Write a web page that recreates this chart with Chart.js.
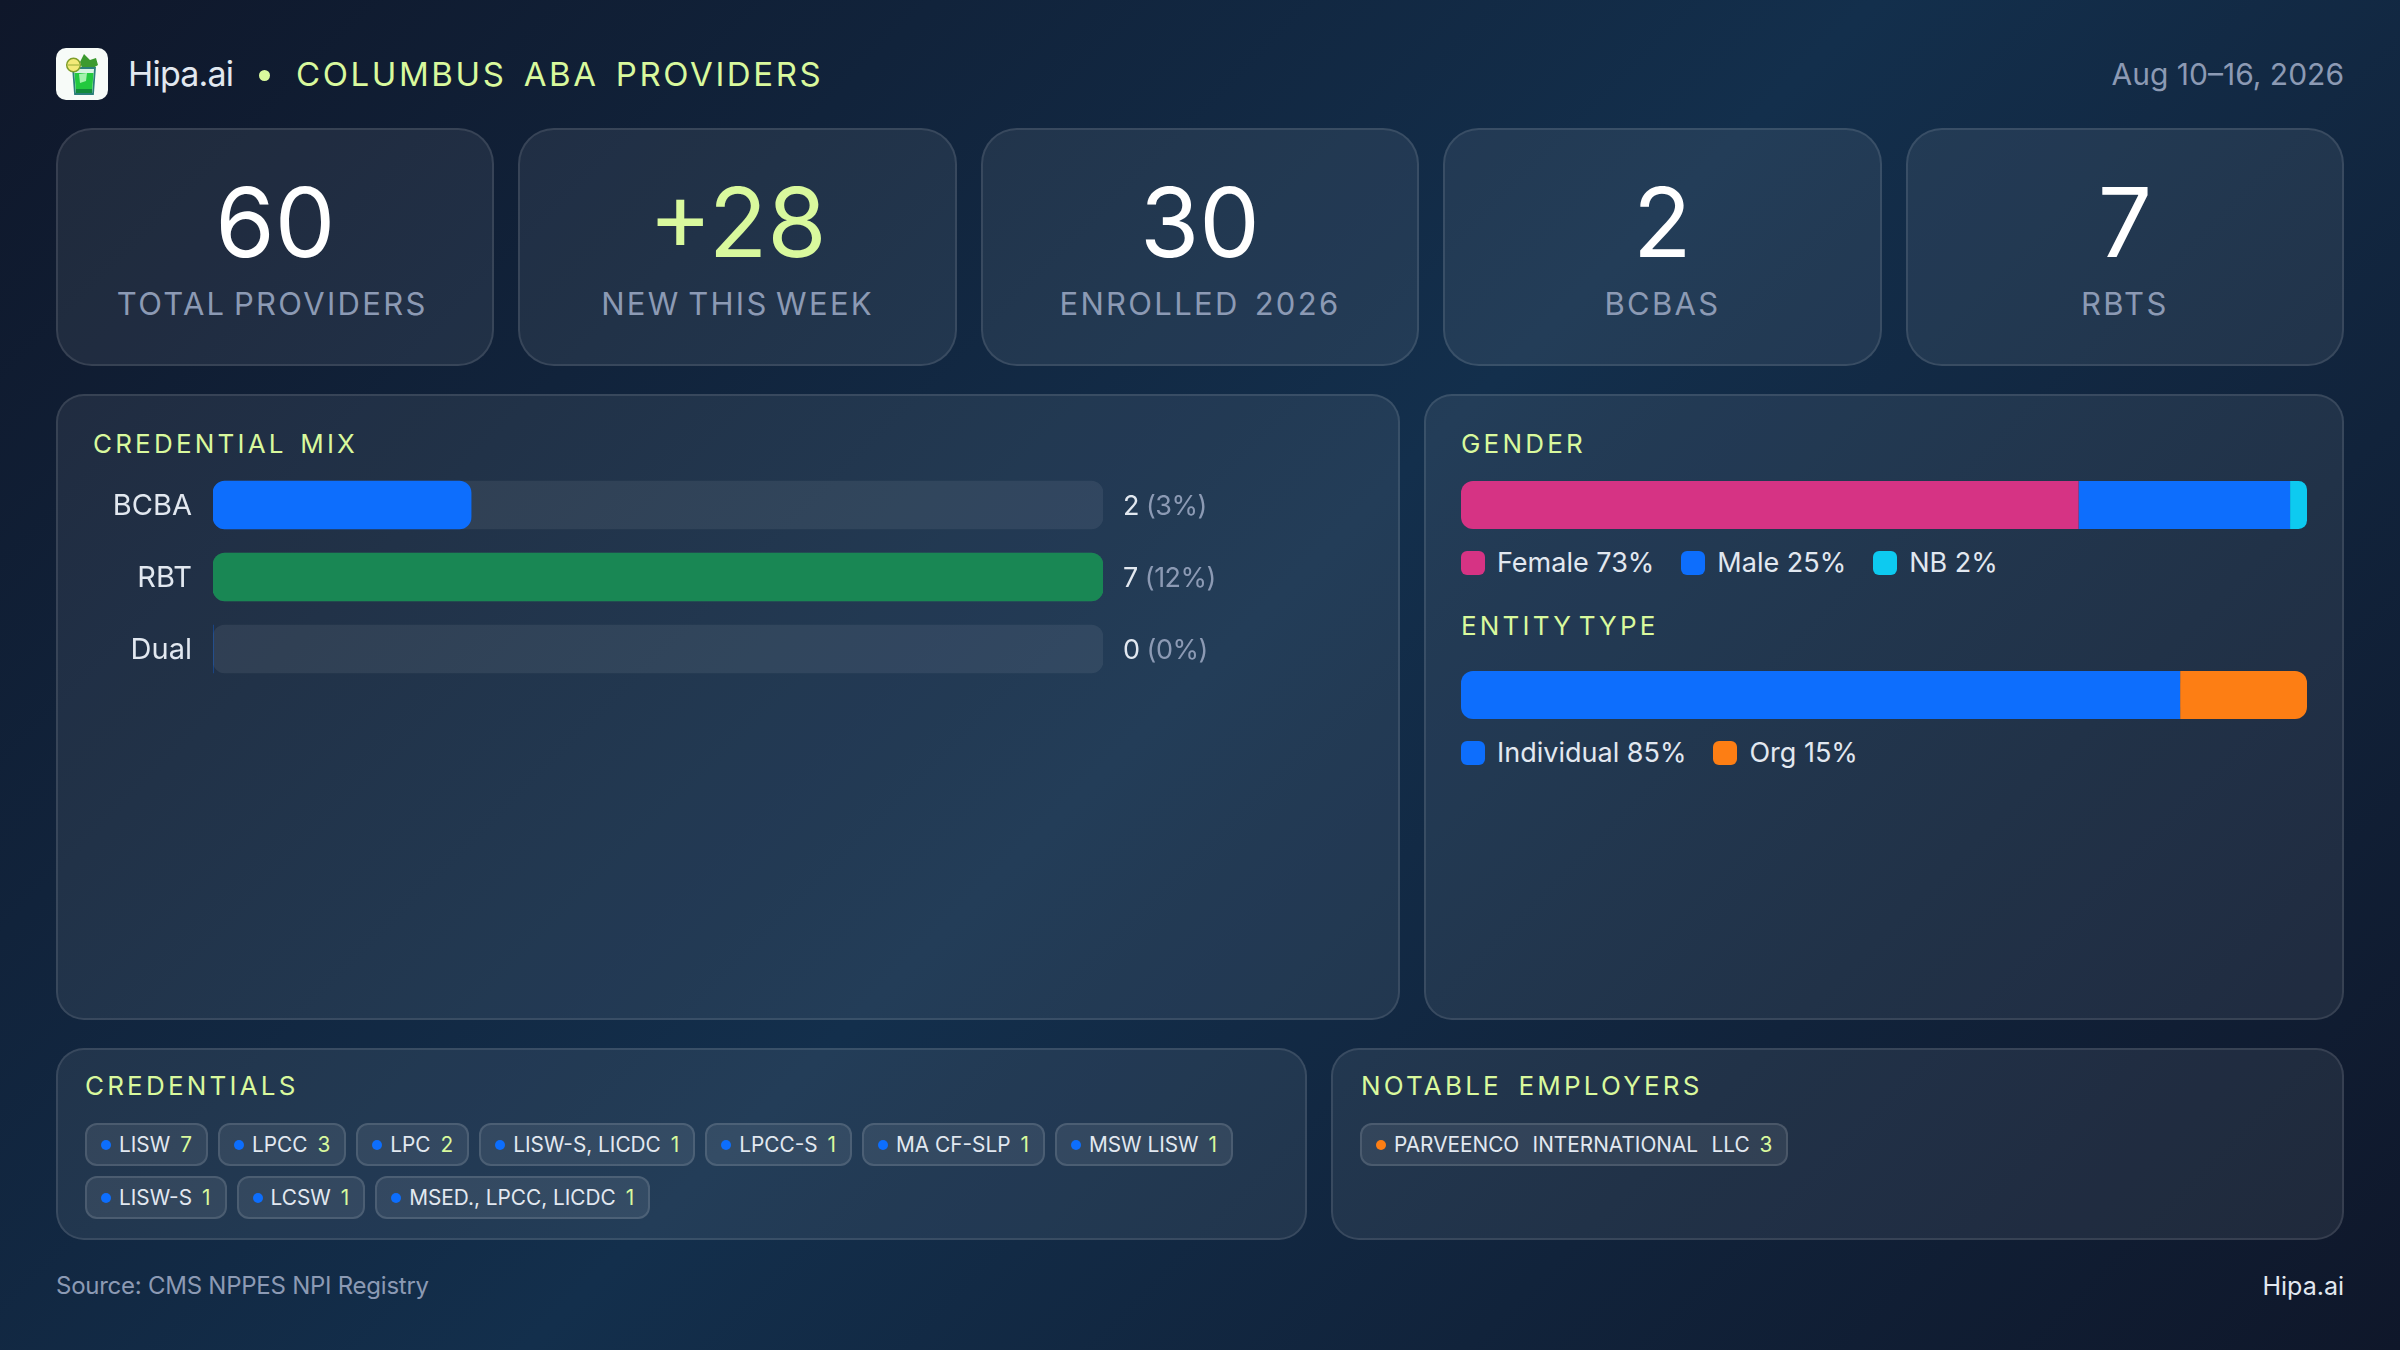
<!DOCTYPE html>
<html>
<head>
<meta charset="utf-8">
<script src="https://cdn.jsdelivr.net/npm/chart.js@4"></script>
<style>
html, body { margin: 0; padding: 0; }
body { width: 2400px; height: 1350px; overflow: hidden; position: relative; font-family: Inter, sans-serif;
  background: linear-gradient(135deg, #0f172a 0%, #132f4c 50%, #0f172a 100%); color: #e2e8f0; }
.abs { position: absolute; white-space: nowrap; }
.panel { position: absolute; box-sizing: border-box; background: rgba(255,255,255,.07); border: 2px solid rgba(255,255,255,.1); border-radius: 28px; }
.stat { top: 128px; height: 238px; width: 438.4px; border-radius: 36px; text-align: center; }
.stat .num { position: absolute; left: 0; right: 0; top: 34px; font-size: 96px; line-height: 116px; color: #fff; }
.stat .lab { position: absolute; left: 0; right: 0; top: 154px; font-size: 31px; line-height: 40px; letter-spacing: 2.3px; word-spacing: -3.5px; color: #8c9ab4; }
.stat:nth-child(1) .lab { left: -6px; }
.stat:nth-child(3) .lab { word-spacing: 4px; }
.sec { position: absolute; white-space: nowrap; font-size: 26px; line-height: 32px; letter-spacing: 3.2px; word-spacing: 3px; color: #d9f99d; }
canvas { position: absolute; display: block; }
.legend { position: absolute; left: 1461px; display: flex; gap: 27px; font-size: 27px; line-height: 26px; height: 24px; }
.legend div { display: flex; align-items: center; white-space: nowrap; }
.legend i { width: 24px; height: 24px; border-radius: 6px; margin-right: 12px; }
.chips { position: absolute; display: flex; flex-wrap: wrap; gap: 10px 10px; }
.chip { box-sizing: border-box; height: 43px; padding: 0 14px; display: flex; align-items: center; white-space: nowrap; font-size: 20.8px;
  background: rgba(255,255,255,.08); border: 2px solid rgba(255,255,255,.12); border-radius: 12px; }
.chip i { width: 10px; height: 10px; border-radius: 50%; margin-right: 8px; }
.chip b { font-weight: 400; color: #d9f99d; margin-left: 10px; }
#empChips .chip { word-spacing: 7.5px; }
</style>
</head>
<body>
<div class="abs" style="left:56px;top:48px;width:52px;height:52px;border-radius:10px;background:#f7fbf8;overflow:hidden">
  <svg width="52" height="52" viewBox="0 0 52 52">
    <path d="M24 14 L28 6 L34 12 L40 10 L42 17 L34 22 L26 20 Z" fill="#3c9a2f"/>
    <path d="M17 20 L39 20 L37 46 L19 46 Z" fill="#d8f3e2" stroke="#2a7f7a" stroke-width="1.8"/>
    <path d="M18.5 25 L37.5 25 L36 44.5 L20 44.5 Z" fill="#22c93f"/>
    <path d="M23 26 L31 25 L30 33 L24 35 Z" fill="#a4f2ae"/>
    <path d="M20 41 L36 41 L36 45 L20 45 Z" fill="#128a3b"/>
    <circle cx="17.5" cy="17" r="6.8" fill="#f3ea78" stroke="#7f9e2a" stroke-width="1.5"/>
    <path d="M12 17 L23 17" stroke="#7f9e2a" stroke-width="0.8"/>
  </svg>
</div>
<div class="abs" style="left:128px;top:53px;font-size:34px;line-height:42px;letter-spacing:-0.8px">Hipa.ai</div>
<div class="abs" style="left:259px;top:70px;width:11px;height:11px;border-radius:50%;background:#d9f99d"></div>
<div class="abs" style="left:296px;top:53px;font-size:33px;line-height:42px;letter-spacing:2.6px;word-spacing:5.3px;color:#d9f99d">COLUMBUS ABA PROVIDERS</div>
<div class="abs" style="right:56px;top:55px;font-size:30px;line-height:38px;color:#8c9ab4">Aug 10–16, 2026</div>

<div id="stats"></div>

<div class="panel" style="left:56px;top:394px;width:1344px;height:626px"></div>
<div class="panel" style="left:1424px;top:394px;width:920px;height:626px"></div>
<div class="sec" style="left:93px;top:428px">CREDENTIAL MIX</div>
<canvas id="credChart" width="1283" height="216" style="left:93px;top:469px"></canvas>

<div class="sec" style="left:1461px;top:428px">GENDER</div>
<canvas id="genderChart" width="846" height="48" style="left:1461px;top:481px"></canvas>
<div class="legend" id="genderLegend" style="top:551px"></div>
<div class="sec" style="left:1461px;top:610px;word-spacing:-6px">ENTITY TYPE</div>
<canvas id="entityChart" width="846" height="48" style="left:1461px;top:671px"></canvas>
<div class="legend" id="entityLegend" style="top:741px"></div>

<div class="panel" style="left:56px;top:1048px;width:1251px;height:192px"></div>
<div class="panel" style="left:1331px;top:1048px;width:1013px;height:192px"></div>
<div class="sec" style="left:85px;top:1070px">CREDENTIALS</div>
<div class="chips" id="credChips" style="left:85px;top:1123px;width:1200px"></div>
<div class="sec" style="left:1361px;top:1070px;word-spacing:6px">NOTABLE EMPLOYERS</div>
<div class="chips" id="empChips" style="left:1360px;top:1123px;width:950px"></div>

<div class="abs" style="left:56px;top:1270px;font-size:24px;line-height:32px;letter-spacing:-0.25px;color:#8c9ab4">Source: CMS NPPES NPI Registry</div>
<div class="abs" style="right:56px;top:1270px;font-size:25px;line-height:32px">Hipa.ai</div>

<script>
// values
var statValues = ["60", "+28", "30", "2", "7"];
var statLabels = ["TOTAL PROVIDERS", "NEW THIS WEEK", "ENROLLED 2026", "BCBAS", "RBTS"];

var credLabels = ["BCBA", "RBT", "Dual"];
var credBarPct = [29, 100, 0];
var credCounts = [2, 7, 0];
var credShares = [3, 12, 0];
var credColors = ["#0d6efd", "#198754", "#0d6efd"];

var genderLabels = ["Female", "Male", "NB"];
var genderPct = [73, 25, 2];
var genderColors = ["#d63384", "#0d6efd", "#0dcaf0"];

var entityLabels = ["Individual", "Org"];
var entityPct = [85, 15];
var entityColors = ["#0d6efd", "#fd7e14"];

var chipNames = ["LISW", "LPCC", "LPC", "LISW-S, LICDC", "LPCC-S", "MA CF-SLP", "MSW LISW", "LISW-S", "LCSW", "MSED., LPCC, LICDC"];
var chipCounts = [7, 3, 2, 1, 1, 1, 1, 1, 1, 1];
var employerNames = ["PARVEENCO INTERNATIONAL LLC"];
var employerCounts = [3];

var radius = 12;

function buildStats() {
    var html = "";
    for (var i = 0; i < statValues.length; i++) {
        var left = 56 + i * 462.4;
        var color = i == 1 ? "color:#d9f99d" : "";
        html += '<div class="panel stat" style="left:' + left + 'px"><div class="num" style="' + color + '">' + statValues[i] + '</div><div class="lab">' + statLabels[i] + '</div></div>';
    }
    document.getElementById("stats").innerHTML = html;
}

function buildLegend(id, labels, pct, colors) {
    var html = "";
    for (var i = 0; i < labels.length; i++) {
        html += '<div><i style="background:' + colors[i] + '"></i>' + labels[i] + ' ' + pct[i] + '%</div>';
    }
    document.getElementById(id).innerHTML = html;
}

function buildChips(id, names, counts, dot) {
    var html = "";
    for (var i = 0; i < names.length; i++) {
        html += '<div class="chip"><i style="background:' + dot + '"></i>' + names[i] + '<b>' + counts[i] + '</b></div>';
    }
    document.getElementById(id).innerHTML = html;
}

// writes "2 (3%)" to the right of each track
var valueLabels = {
    id: "valueLabels",
    afterDraw: function (chart) {
        var ctx = chart.ctx;
        var meta = chart.getDatasetMeta(1);
        ctx.save();
        ctx.font = "27px Inter";
        ctx.letterSpacing = "-0.5px";
        ctx.textBaseline = "middle";
        for (var i = 0; i < credCounts.length; i++) {
            var x = chart.scales.x.getPixelForValue(100) + 20;
            var y = meta.data[i].y + 1.5;
            var num = String(credCounts[i]);
            ctx.fillStyle = "#e2e8f0";
            ctx.fillText(num, x, y);
            ctx.fillStyle = "#8c9ab4";
            ctx.fillText("(" + credShares[i] + "%)", x + ctx.measureText(num).width + 7, y);
        }
        ctx.restore();
    }
};

function startCredChart() {
    var track = credLabels.map(function () { return 100; });
    new Chart(document.getElementById("credChart"), {
        type: "bar",
        data: {
            labels: credLabels,
            datasets: [
                { data: credBarPct, backgroundColor: credColors, order: 1, barThickness: 48, borderRadius: radius, borderSkipped: false },
                { data: track, backgroundColor: "rgba(255,255,255,0.07)", order: 2, barThickness: 48, borderRadius: radius, borderSkipped: false }
            ]
        },
        options: {
            indexAxis: "y",
            responsive: false,
            animation: false,
            layout: { padding: { right: 273 } },
            plugins: { legend: { display: false }, tooltip: { enabled: false } },
            scales: {
                x: { min: 0, max: 100, display: false, stacked: false },
                y: {
                    stacked: true,
                    afterFit: function (axis) {
                        axis.width = 120;
                        axis.paddingTop = 0;
                        axis.paddingBottom = 0;
                    },
                    grid: { display: false, drawTicks: false },
                    border: { display: false },
                    ticks: { color: "#e2e8f0", padding: 21, labelOffset: 1.5, font: { family: "Inter", size: 29 } }
                }
            }
        },
        plugins: [valueLabels]
    });
}

function startStackedBar(id, labels, pct, colors) {
    var datasets = [];
    for (var i = 0; i < labels.length; i++) {
        var r = { topLeft: 0, bottomLeft: 0, topRight: 0, bottomRight: 0 };
        if (i == 0) { r.topLeft = radius; r.bottomLeft = radius; }
        if (i == labels.length - 1) { r.topRight = radius; r.bottomRight = radius; }
        datasets.push({ label: labels[i], data: [pct[i]], backgroundColor: colors[i], borderRadius: r, borderSkipped: false, barThickness: 48, inflateAmount: 0 });
    }
    new Chart(document.getElementById(id), {
        type: "bar",
        data: { labels: [""], datasets: datasets },
        options: {
            indexAxis: "y",
            responsive: false,
            animation: false,
            plugins: { legend: { display: false }, tooltip: { enabled: false } },
            scales: {
                x: { min: 0, max: 100, stacked: true, display: false },
                y: { stacked: true, display: false }
            }
        }
    });
}

function start() {
    buildStats();
    buildLegend("genderLegend", genderLabels, genderPct, genderColors);
    buildLegend("entityLegend", entityLabels, entityPct, entityColors);
    buildChips("credChips", chipNames, chipCounts, "#0d6efd");
    buildChips("empChips", employerNames, employerCounts, "#fd7e14");
    startCredChart();
    startStackedBar("genderChart", genderLabels, genderPct, genderColors);
    startStackedBar("entityChart", entityLabels, entityPct, entityColors);
}

start();
</script>
</body>
</html>
